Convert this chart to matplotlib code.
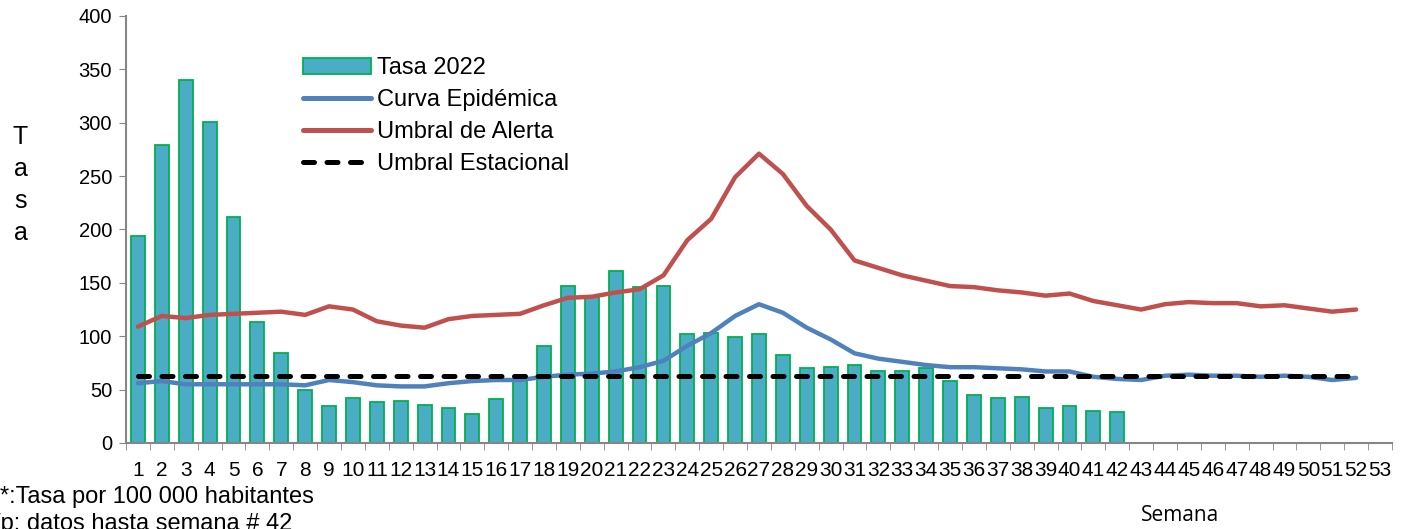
import numpy as np
import matplotlib
matplotlib.use("Agg")
from matplotlib import pyplot as plt
from matplotlib.patches import Patch
from matplotlib.lines import Line2D

plt.rcParams['font.family'] = ['Liberation Sans', 'DejaVu Sans']

# semanas epidemiologicas
semanas = [str(i) for i in range(1, 54)]

# tasa 2022 (datos hasta semana 42)
tasa_2022 = [194, 279, 340, 301, 212, 113, 84, 50, 35, 42,
             38, 39, 36, 33, 27, 41, 59, 91, 147, 137,
             161, 146, 147, 102, 103, 99, 102, 82, 70, 71,
             73, 67, 67, 70, 58, 45, 42, 43, 33, 35,
             30, 29]

curva_epidemica = [56, 58, 55, 55, 55, 55, 55, 54, 59, 57,
                   54, 53, 53, 56, 58, 59, 59, 62, 64, 65,
                   67, 71, 77, 91, 103, 119, 130, 122, 108, 97,
                   84, 79, 76, 73, 71, 71, 70, 69, 67, 67,
                   62, 60, 59, 63, 64, 63, 63, 62, 63, 62,
                   59, 61]

umbral_alerta = [109, 119, 117, 120, 121, 122, 123, 120, 128, 125,
                 114, 110, 108, 116, 119, 120, 121, 129, 136, 137,
                 141, 144, 157, 190, 210, 249, 271, 252, 222, 200,
                 171, 164, 157, 152, 147, 146, 143, 141, 138, 140,
                 133, 129, 125, 130, 132, 131, 131, 128, 129, 126,
                 123, 125]

umbral_estacional = [63] * 52

fig = plt.figure(figsize=(14.11, 5.29), dpi=100)
ax = fig.add_axes([0.0893, 0.1626, 0.8972, 0.8072])

x_bar = np.arange(len(tasa_2022))
ax.bar(x_bar, tasa_2022, width=0.58, color='#4BACC6', edgecolor='#00B050', linewidth=1.3, zorder=2)

x_lin = np.arange(len(curva_epidemica))
ax.plot(x_lin, curva_epidemica, color='#4F81BD', lw=3.2, zorder=3, solid_capstyle='round')
ax.plot(x_lin, umbral_alerta, color='#C0504D', lw=3.2, zorder=3, solid_capstyle='round')
ax.plot(np.arange(len(umbral_estacional)), umbral_estacional, color='black', lw=3.6,
        dashes=(2.2, 2.5), dash_capstyle='round', zorder=4)

ax.set_xlim(-0.5, len(semanas) - 0.5)
ax.set_ylim(0, 400)
ax.set_yticks(np.arange(0, 401, 50))
ax.set_xticks(np.arange(len(semanas)))
ax.set_xticklabels(semanas)
ax.set_xticks(np.arange(len(semanas) + 1) - 0.5, minor=True)
ax.tick_params(axis='x', which='major', length=0, pad=13, labelsize=15)
ax.tick_params(axis='x', which='minor', length=5, color='#868686', direction='out')
ax.tick_params(axis='y', length=5, color='#868686', direction='out', labelsize=14.5, pad=5)

for s in ['top', 'right']:
    ax.spines[s].set_visible(False)
for s in ['left', 'bottom']:
    ax.spines[s].set_color('#868686')
    ax.spines[s].set_linewidth(1.5)

handles = [
    Patch(facecolor='#4BACC6', edgecolor='#00B050', linewidth=1.3, label='Tasa 2022'),
    Line2D([], [], color='#4F81BD', lw=3.6, label='Curva Epidémica', solid_capstyle='round'),
    Line2D([], [], color='#C0504D', lw=3.6, label='Umbral de Alerta', solid_capstyle='round'),
    Line2D([], [], color='black', lw=3.6, dashes=(2.2, 2.5), dash_capstyle='round',
           label='Umbral Estacional'),
]
ax.legend(handles=handles, loc='upper left', bbox_to_anchor=(0.132, 0.925), frameon=False,
          fontsize=17, handlelength=2.9, handletextpad=0.25, labelspacing=0.42,
          borderaxespad=0)

# eje y vertical con letras apiladas
fig.text(0.0145, 0.65, "T\na\ns\na", fontsize=18, ha='center', va='center', linespacing=1.42)

fig.text(0.0, 0.06, "*:Tasa por 100 000 habitantes", fontsize=17, ha='left', va='center')
fig.text(-0.004, 0.01, "/p: datos hasta semana # 42", fontsize=17, ha='left', va='center')
fig.text(0.836, 0.025, "Semana", fontsize=15, ha='center', va='center', family=['Open Sans', 'DejaVu Sans'])

fig.savefig("out.png", dpi=100)
